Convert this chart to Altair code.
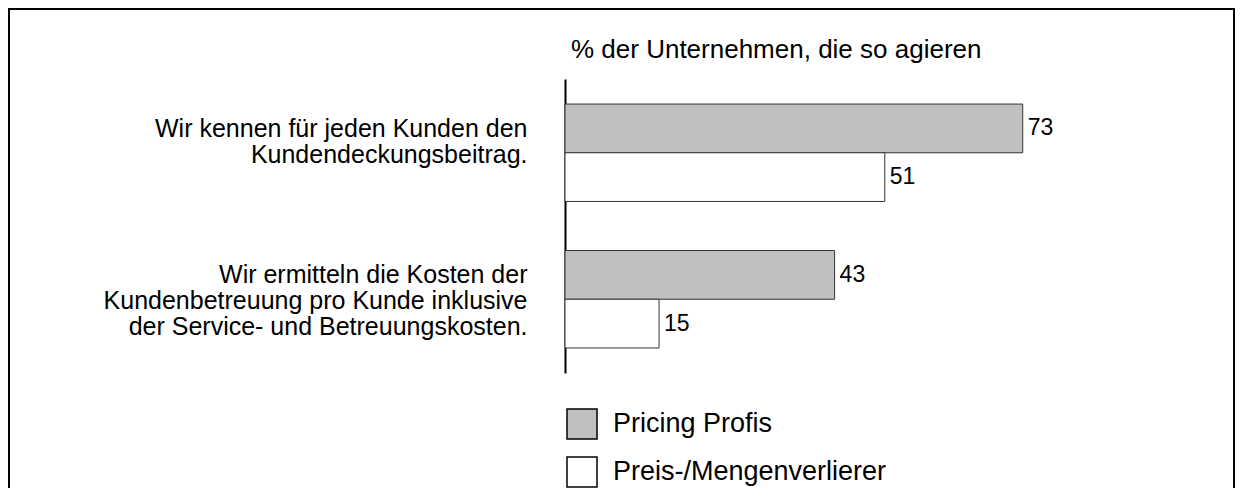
import altair as alt
import pandas as pd

# ---- data ----
categories = [
    "Wir kennen für jeden Kunden den|Kundendeckungsbeitrag.",
    "Wir ermitteln die Kosten der|Kundenbetreuung pro Kunde inklusive|der Service- und Betreuungskosten.",
]
series = ["Pricing Profis", "Preis-/Mengenverlierer"]
pricing_profis = [73, 43]
preis_mengenverlierer = [51, 15]
title_text = "% der Unternehmen, die so agieren"
colors = ["#c0c0c0", "#ffffff"]

rows = []
for i, c in enumerate(categories):
    rows.append({"Aussage": c, "Gruppe": series[0], "Wert": pricing_profis[i]})
    rows.append({"Aussage": c, "Gruppe": series[1], "Wert": preis_mengenverlierer[i]})
df = pd.DataFrame(rows)

FONT = "Liberation Sans"
PLOT_W, PLOT_H = 627, 294
PAD = {"left": 557, "top": 71, "right": 44, "bottom": 115}

y_enc = alt.Y(
    "Aussage:N",
    sort=categories,
    scale=alt.Scale(paddingInner=0.335, paddingOuter=0.171),
    axis=alt.Axis(
        title=None,
        domain=True,
        domainColor="black",
        domainWidth=2,
        ticks=False,
        grid=False,
        labelExpr="split(datum.value, '|')",
        labelFontSize=25,
        labelLineHeight=26,
        labelPadding=38,
        labelOffset=-24,
        labelLimit=0,
        labelColor="black",
        labelFont=FONT,
        labelAlign="right",
    ),
)
yoff_enc = alt.YOffset("Gruppe:N", sort=series, scale=alt.Scale(paddingInner=0, paddingOuter=0))
x_enc = alt.X("Wert:Q", scale=alt.Scale(domain=[0, 100]), axis=None)

bars = alt.Chart(df).mark_bar(stroke="#333333", strokeWidth=1).encode(
    x=x_enc,
    y=y_enc,
    yOffset=yoff_enc,
    fill=alt.Fill(
        "Gruppe:N",
        sort=series,
        scale=alt.Scale(domain=series, range=colors),
        legend=alt.Legend(
            orient="none",
            legendX=1,
            legendY=329,
            title=None,
            direction="vertical",
            symbolType="square",
            symbolSize=900,
            symbolStrokeColor="black",
            symbolStrokeWidth=1.5,
            symbolOpacity=1,
            labelFontSize=27,
            labelFont=FONT,
            labelColor="black",
            labelOffset=15,
            rowPadding=12,
            labelLimit=0,
        ),
    ),
)

texts = alt.Chart(df).mark_text(
    align="left", baseline="middle", dx=5, fontSize=23, font=FONT, color="black"
).encode(
    x=x_enc,
    y=alt.Y("Aussage:N", sort=categories),
    yOffset=yoff_enc,
    text=alt.Text("Wert:Q"),
)

title = alt.Chart(alt.Data(values=[{"t": title_text}])).mark_text(
    align="left", baseline="alphabetic", fontSize=26, font=FONT, color="black"
).encode(
    x=alt.value(6),
    y=alt.value(-21),
    text="t:N",
)

frame = alt.Chart(alt.Data(values=[{"f": 1}])).mark_rect(
    fill="transparent", stroke="black", strokeWidth=2
).encode(
    x=alt.value(-556),
    x2=alt.value(669),
    y=alt.value(-70),
    y2=alt.value(430),
)

chart = alt.layer(frame, bars, texts, title).properties(
    width=PLOT_W,
    height=PLOT_H,
    padding=PAD,
    autosize=alt.AutoSizeParams(type="none"),
    background="white",
).configure_view(stroke="transparent")

chart.save("out.html", embed_options={"renderer": "svg", "actions": False})
